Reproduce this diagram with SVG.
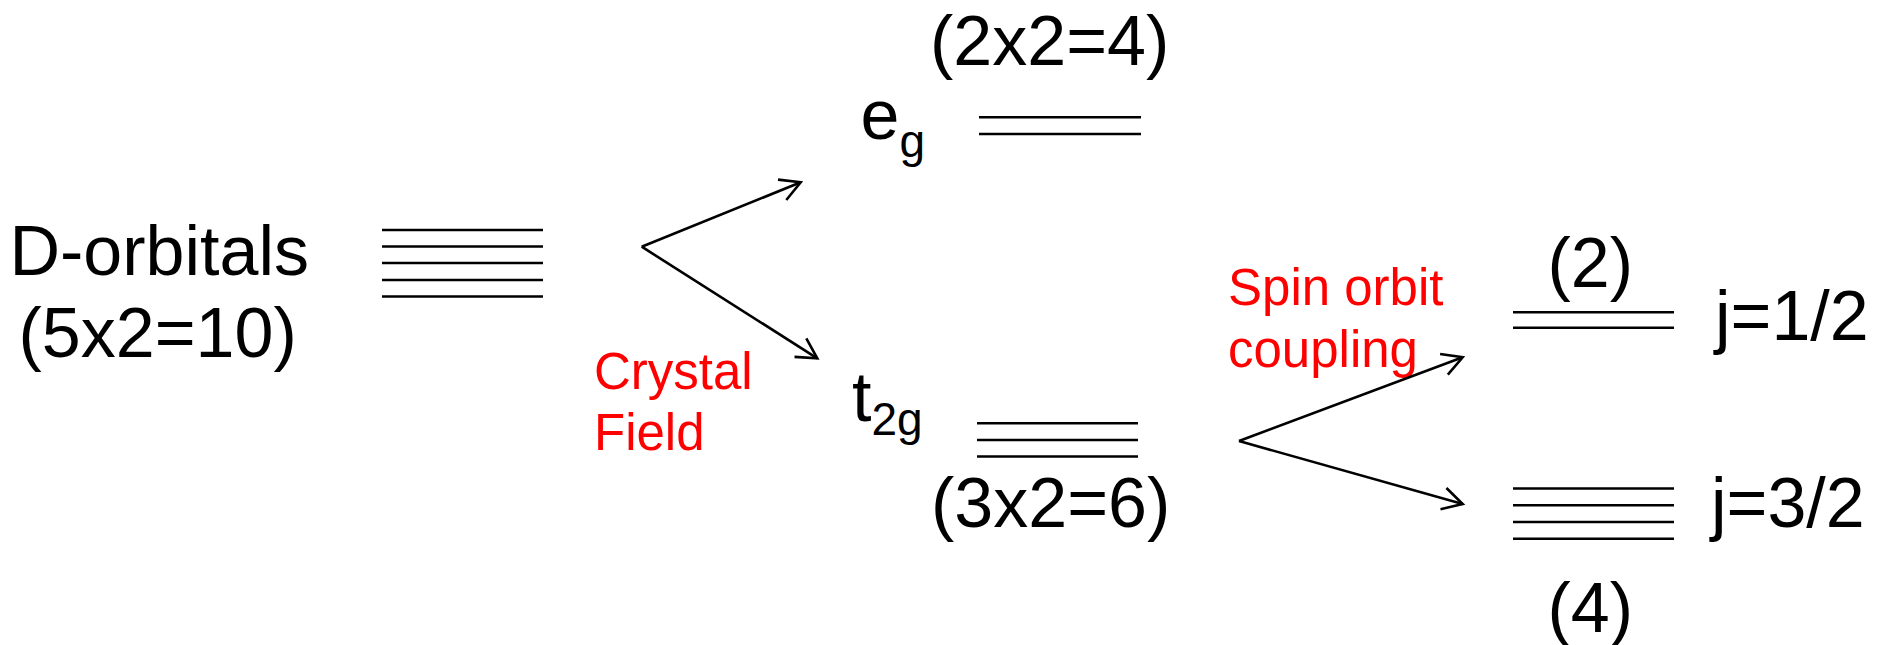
<svg xmlns="http://www.w3.org/2000/svg" width="1885" height="645" viewBox="0 0 1885 645">
  <style>
    .t { font-family: "Liberation Sans", Arial, sans-serif; font-size: 70px; fill: #000; }
    .r { font-family: "Liberation Sans", Arial, sans-serif; font-size: 51px; fill: #ff0000; }
    .lv { stroke: #000; stroke-width: 2.6; fill: none; }
    .ar { stroke: #000; stroke-width: 2.6; fill: none; }
  </style>
  <defs>
    <marker id="open" viewBox="-25 -15 30 30" markerWidth="30" markerHeight="30" refX="0" refY="0" orient="auto" markerUnits="userSpaceOnUse">
      <path d="M-20,-11 L0,0 L-20,11" fill="none" stroke="#000" stroke-width="2.6"/>
    </marker>
  </defs>
  <rect width="1885" height="645" fill="#fff"/>

  <g id="d-orbitals">
    <text class="t" x="9.5" y="275">D-orbitals</text>
    <text class="t" x="18.5" y="357">(5x2=10)</text>
    <path class="lv" d="M382,230H543M382,246.5H543M382,263H543M382,280H543M382,296.5H543"/>
  </g>

  <g id="eg">
    <text class="t" x="930" y="65">(2x2=4)</text>
    <text class="t" x="860.5" y="139">e<tspan font-size="46" dy="18">g</tspan></text>
    <path class="lv" d="M979,117.3H1141M979,134H1141"/>
  </g>

  <g id="t2g">
    <text class="t" x="852" y="421">t<tspan font-size="46" dy="14">2g</tspan></text>
    <path class="lv" d="M977,423.3H1138M977,440H1138M977,456.5H1138"/>
    <text class="t" x="931" y="527">(3x2=6)</text>
  </g>

  <g id="crystal-field">
    <text class="r" x="594" y="389">Crystal</text>
    <text class="r" x="594" y="450">Field</text>
  </g>

  <g id="spin-orbit">
    <text class="r" x="1228" y="305">Spin orbit</text>
    <text class="r" x="1228" y="367">coupling</text>
  </g>

  <g id="j12">
    <text class="t" x="1547.5" y="287">(2)</text>
    <path class="lv" d="M1513,312.3H1674M1513,327.7H1674"/>
    <text class="t" x="1715" y="340">j=1/2</text>
  </g>

  <g id="j32">
    <path class="lv" d="M1513,488.5H1674M1513,505.3H1674M1513,522H1674M1513,538.7H1674"/>
    <text class="t" x="1711" y="527">j=3/2</text>
    <text class="t" x="1547.5" y="632">(4)</text>
  </g>

  <g id="connectors">
    <line class="ar" x1="641.7" y1="246.7" x2="800.7" y2="182.3" marker-end="url(#open)"/>
    <line class="ar" x1="641.7" y1="246.7" x2="817.3" y2="358.3" marker-end="url(#open)"/>
    <line class="ar" x1="1239" y1="441" x2="1462.7" y2="357.3" marker-end="url(#open)"/>
    <line class="ar" x1="1239" y1="441" x2="1462.7" y2="504" marker-end="url(#open)"/>
  </g>
</svg>
